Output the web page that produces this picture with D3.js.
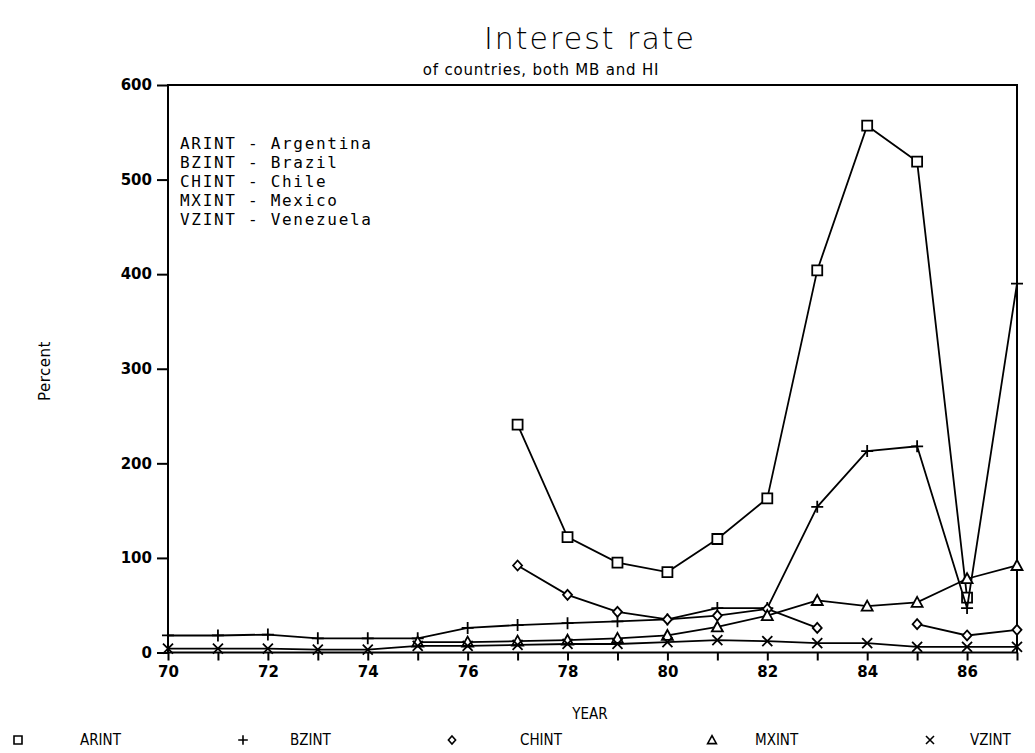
<!DOCTYPE html>
<html>
<head>
<meta charset="utf-8">
<script src="https://cdn.jsdelivr.net/npm/d3@7"></script>
<style>
  body { margin: 0; background: #fff; }
  svg { display: block; }
  text { fill: #000; }
  .tick text { font-family: "DejaVu Sans", sans-serif; font-size: 15px; font-weight: bold; }
  .tick line { stroke: #000; stroke-width: 2; }
</style>
</head>
<body>
<svg class="chart" width="1035" height="753"></svg>
<script>
let years = d3.range(70, 88)
let yTicks = [0, 100, 200, 300, 400, 500, 600]

let series_names = ["ARINT", "BZINT", "CHINT", "MXINT", "VZINT"]
let country_names = ["Argentina", "Brazil", "Chile", "Mexico", "Venezuela"]

// values per year 70..87, null where no data
let arint = [null, null, null, null, null, null, null, 241, 122, 95, 85, 120, 163, 404, 557, 519, 58, null]
let bzint = [18, 18, 19, 15, 15, 15, 26, 29, 31, 33, 35, 47, 47, 154, 213, 218, 47, 390]
let chint = [null, null, null, null, null, null, null, 92, 61, 43, 35, 39, 46, 26, null, 30, 18, 24]
let mxint = [null, null, null, null, null, 11, 11, 12, 13, 15, 18, 27, 39, 55, 49, 53, 78, 92]
let vzint = [4, 4, 4, 3, 3, 7, 7, 8, 9, 9, 11, 13, 12, 10, 10, 6, 6, 6]

let all_series = [arint, bzint, chint, mxint, vzint]
let symbols = ["square", "plus", "diamond", "triangle", "cross"]

let svg = d3.select(".chart")

let x = d3.scaleLinear().domain([70, 87]).range([168, 1017])
let y = d3.scaleLinear().domain([0, 600]).range([652.5, 85])

// marker shapes drawn as paths centred on 0,0
function marker(kind) {
    if (kind == "square") return "M-5,-5H5V5H-5Z"
    if (kind == "plus") return "M-6,0H6M0,-6V6"
    if (kind == "diamond") return "M0,-5L4.5,0L0,5L-4.5,0Z"
    if (kind == "triangle") return "M0,-5.5L5.5,4.5H-5.5Z"
    return "M-5,-5L5,5M5,-5L-5,5"
}

// title
svg.append("text")
    .attr("x", 590).attr("y", 49)
    .attr("text-anchor", "middle")
    .style("font-family", "DejaVu Sans, sans-serif")
    .style("font-weight", 200)
    .style("font-size", "30px")
    .style("letter-spacing", "2px")
    .text("Interest rate")

svg.append("text")
    .attr("x", 541).attr("y", 75)
    .attr("text-anchor", "middle")
    .style("font-family", "DejaVu Sans, sans-serif")
    .style("font-size", "15px")
    .style("letter-spacing", "0.8px")
    .text("of countries, both MB and HI")

// frame
svg.append("rect")
    .attr("x", x(70)).attr("y", y(600))
    .attr("width", x(87) - x(70)).attr("height", y(0) - y(600))
    .attr("fill", "none").attr("stroke", "#000").attr("stroke-width", 2)

let yAxis = svg.append("g")
    .attr("transform", `translate(${x(70)},0)`)
    .call(d3.axisLeft(y).tickValues(yTicks).tickSize(11).tickPadding(5))
yAxis.select(".domain").remove()

let xAxis = svg.append("g")
    .attr("transform", `translate(0,${y(0)})`)
    .call(d3.axisBottom(x).tickValues(years).tickSize(8).tickPadding(6)
        .tickFormat(d => d % 2 == 0 ? d : ""))
xAxis.select(".domain").remove()

// axis titles
svg.append("text")
    .attr("transform", "translate(50,371) rotate(-90)")
    .attr("text-anchor", "middle")
    .style("font-family", "DejaVu Sans, sans-serif")
    .style("font-size", "15px")
    .style("letter-spacing", "0.5px")
    .text("Percent")

svg.append("text")
    .attr("x", 590).attr("y", 719)
    .attr("text-anchor", "middle")
    .style("font-family", "DejaVu Sans Condensed, sans-serif")
    .style("font-size", "15px")
    .text("YEAR")

// series lines
let line = d3.line()
    .defined(d => d != null)
    .x((d, i) => x(years[i]))
    .y(d => y(d))

all_series.forEach((values, s) => {
    svg.append("path")
        .attr("d", line(values))
        .attr("fill", "none")
        .attr("stroke", "#000")
        .attr("stroke-width", 1.8)

    svg.append("g").selectAll("path")
        .data(values.map((v, i) => ({ year: years[i], value: v })).filter(d => d.value != null))
        .enter().append("path")
        .attr("transform", d => `translate(${x(d.year)},${y(d.value)})`)
        .attr("d", marker(symbols[s]))
        .attr("fill", symbols[s] == "plus" || symbols[s] == "cross" ? "none" : "#fff")
        .attr("stroke", "#000")
        .attr("stroke-width", 1.8)
})

// inner legend with country names
svg.append("g").selectAll("text")
    .data(series_names)
    .enter().append("text")
    .attr("x", 180)
    .attr("y", (d, i) => 149 + i * 19)
    .style("font-family", "DejaVu Sans Mono, monospace")
    .style("font-size", "16px")
    .style("letter-spacing", "1.7px")
    .text((d, i) => d + " - " + country_names[i])

// bottom legend
let legendSymbolX = [18, 243, 452, 712, 930]
let legendTextX = [80, 290, 520, 755, 970]
let legend = svg.append("g")
legend.selectAll("path")
    .data(series_names)
    .enter().append("path")
    .attr("d", (d, i) => marker(symbols[i]))
    .attr("transform", (d, i) => `translate(${legendSymbolX[i]},740) scale(0.8)`)
    .attr("fill", "none")
    .attr("stroke", "#000")
    .attr("stroke-width", 2)
legend.selectAll("text")
    .data(series_names)
    .enter().append("text")
    .attr("x", (d, i) => legendTextX[i])
    .attr("y", 745)
    .style("font-family", "DejaVu Sans Condensed, sans-serif")
    .style("font-size", "15px")
    .text(d => d)
</script>
</body>
</html>
